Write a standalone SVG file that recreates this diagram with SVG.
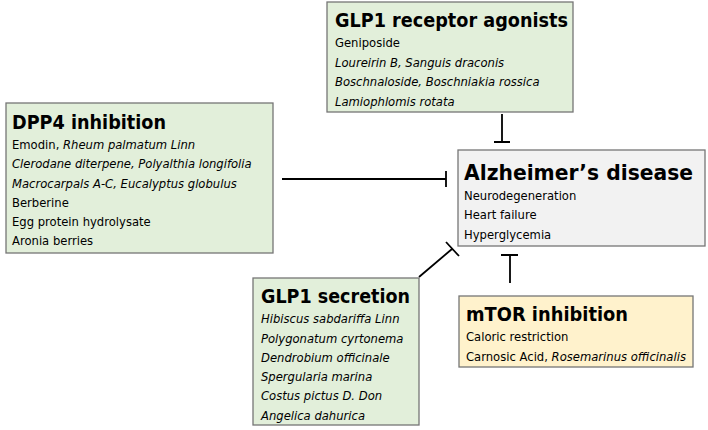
<svg xmlns="http://www.w3.org/2000/svg" width="708" height="430" viewBox="0 0 708 430">
<style>
.box{stroke:#767676;stroke-width:1.3}
.g{fill:#e2efda}
.gr{fill:#f2f2f2}
.y{fill:#fff2cc}
.t{font-family:"DejaVu Sans",Verdana,sans-serif;font-weight:bold;font-size:18.6px;fill:#000}
.b{font-family:"DejaVu Sans",Verdana,sans-serif;font-size:11.6px;fill:#000}
.i{font-style:italic}
.c{stroke:#000;stroke-width:1.8;fill:none}
</style>
<rect width="708" height="430" fill="#fff"/>
<g id="connectors">
<path class="c" d="M282,179H446M446,171V187"/>
<path class="c" d="M502,114V142M494,142H510"/>
<path class="c" d="M419,277L452,249M446,242L459,256"/>
<path class="c" d="M510,283V255M501,255H518"/>
</g>
<g id="glp1-receptor-agonists">
<rect class="box g" x="327" y="2" width="246" height="110"/>
<text class="t" x="335" y="27" textLength="233" lengthAdjust="spacingAndGlyphs">GLP1 receptor agonists</text>
<text class="b" x="335" y="47">Geniposide</text>
<text class="b i" x="335" y="67">Loureirin B, Sanguis draconis</text>
<text class="b i" x="335" y="86">Boschnaloside, Boschniakia rossica</text>
<text class="b i" x="335" y="106">Lamiophlomis rotata</text>
</g>
<g id="dpp4-inhibition">
<rect class="box g" x="6" y="103" width="267" height="150"/>
<text class="t" x="12" y="129" textLength="154" lengthAdjust="spacingAndGlyphs">DPP4 inhibition</text>
<text class="b" x="12" y="149">Emodin, <tspan class="i">Rheum palmatum Linn</tspan></text>
<text class="b i" x="12" y="168">Clerodane diterpene, Polyalthia longifolia</text>
<text class="b i" x="12" y="188">Macrocarpals A-C, Eucalyptus globulus</text>
<text class="b" x="12" y="207">Berberine</text>
<text class="b" x="12" y="226">Egg protein hydrolysate</text>
<text class="b" x="12" y="245">Aronia berries</text>
</g>
<g id="alzheimers-disease">
<rect class="box gr" x="458" y="150" width="247" height="96"/>
<text class="t" x="464" y="180" style="font-size:21px" textLength="229" lengthAdjust="spacingAndGlyphs">Alzheimer’s disease</text>
<text class="b" x="464" y="200">Neurodegeneration</text>
<text class="b" x="464" y="219">Heart failure</text>
<text class="b" x="464" y="239">Hyperglycemia</text>
</g>
<g id="glp1-secretion">
<rect class="box g" x="253" y="278" width="166" height="147"/>
<text class="t" x="261" y="303" textLength="149" lengthAdjust="spacingAndGlyphs">GLP1 secretion</text>
<text class="b i" x="261" y="323">Hibiscus sabdariffa Linn</text>
<text class="b i" x="261" y="343">Polygonatum cyrtonema</text>
<text class="b i" x="261" y="362">Dendrobium officinale</text>
<text class="b i" x="261" y="381">Spergularia marina</text>
<text class="b i" x="261" y="400">Costus pictus D. Don</text>
<text class="b i" x="261" y="420">Angelica dahurica</text>
</g>
<g id="mtor-inhibition">
<rect class="box y" x="459" y="296" width="234" height="71"/>
<text class="t" x="466" y="321" textLength="162" lengthAdjust="spacingAndGlyphs">mTOR inhibition</text>
<text class="b" x="466" y="341">Caloric restriction</text>
<text class="b" x="466" y="361">Carnosic Acid, <tspan class="i">Rosemarinus officinalis</tspan></text>
</g>
</svg>
